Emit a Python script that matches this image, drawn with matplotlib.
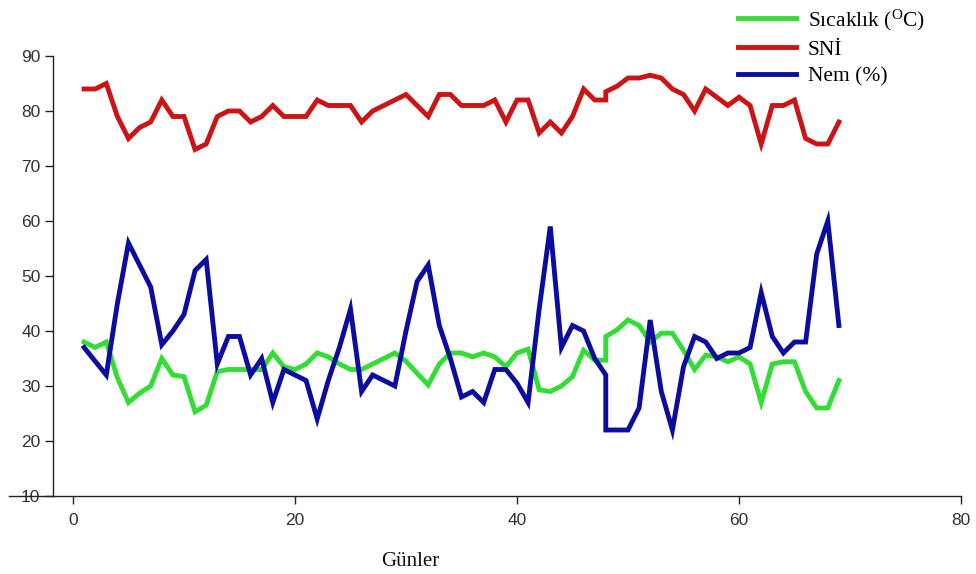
import matplotlib
matplotlib.use("Agg")
import matplotlib.pyplot as plt

plt.rcParams['font.family'] = ['Liberation Sans', 'DejaVu Sans']
plt.rcParams['mathtext.fontset'] = 'custom'
plt.rcParams['mathtext.rm'] = 'Liberation Serif'

# day index (day 48 has two readings)
gunler = list(range(1, 49)) + [48] + list(range(49, 70))

sicaklik = [38, 37, 38, 31.5, 27, 28.7, 30, 35, 32, 31.7,
            25.3, 26.5, 32.6, 33, 33, 33, 33, 36, 33.5, 33,
            34, 36, 35.3, 34, 33, 33, 34, 35, 36, 34.5,
            32.3, 30.2, 34, 36, 36, 35.3, 36, 35.3, 33.5, 36,
            36.7, 29.3, 29, 30, 31.7, 36.5, 34.7, 34.7, 39, 40.2,
            42, 41, 38, 39.6, 39.6, 36.5, 33, 35.6, 35.3, 34.4,
            35.3, 34, 27, 34, 34.4, 34.4, 29, 26, 26, 31]

sni = [84, 84, 85, 79, 75, 77, 78, 82, 79, 79,
       73, 74, 79, 80, 80, 78, 79, 81, 79, 79,
       79, 82, 81, 81, 81, 78, 80, 81, 82, 83,
       81, 79, 83, 83, 81, 81, 81, 82, 78, 82,
       82, 76, 78, 76, 79, 84, 82, 82, 83.5, 84.5,
       86, 86, 86.5, 86, 84, 83, 80, 84, 82.5, 81,
       82.5, 81, 74, 81, 81, 82, 75, 74, 74, 78]

nem = [37, 34.5, 32, 45, 56, 52, 48, 37.5, 40, 43,
       51, 53, 34, 39, 39, 32, 35, 27, 33, 32,
       31, 24, 31, 37, 44, 29, 32, 31, 30, 40,
       49, 52, 41, 35, 28, 29, 27, 33, 33, 30.5,
       27, 44, 59, 37, 41, 40, 35, 32, 22, 22,
       22, 26, 42, 29, 22, 33.5, 39, 38, 35, 36,
       36, 37, 47, 39, 36, 38, 38, 54, 60, 41]

fig = plt.figure(figsize=(9.76, 5.74), dpi=100)
ax = fig.add_axes([53 / 976, 1 - 496 / 574, 908 / 976, 440 / 574])

l1, = ax.plot(gunler, sicaklik, color='#33dd33', lw=3.5, solid_joinstyle='miter')
l2, = ax.plot(gunler, sni, color='#cc1414', lw=3.5, solid_joinstyle='miter')
l3, = ax.plot(gunler, nem, color='#0c0ca0', lw=3.5, solid_joinstyle='miter')

ax.set_xlim(-1.8, 80)
ax.set_ylim(10, 90)
ax.set_xticks([0, 20, 40, 60, 80])
ax.set_yticks(range(10, 91, 10))

for s in ['top', 'right']:
    ax.spines[s].set_visible(False)
for s in ['left', 'bottom']:
    ax.spines[s].set_color('#222222')
    ax.spines[s].set_linewidth(1.0)

ax.tick_params(axis='both', direction='out', length=6, width=1,
               color='#222222', labelcolor='#333333', labelsize=12.5)
ax.tick_params(axis='x', pad=6)
ax.tick_params(axis='y', pad=3)

# x axis line runs left past the y axis, through the "10" label
ax.plot([-0.048, 0], [10, 10], color='#222222', lw=1.0,
        transform=ax.get_yaxis_transform(), clip_on=False)

ax.set_xlabel('Günler', family='Liberation Serif', fontsize=15, color='#111111')
ax.xaxis.set_label_coords(0.393, -0.128)

fig.legend([l1, l2, l3],
           ['Sıcaklık ($\\mathregular{^{O}}$C)', 'SNİ', 'Nem (%)'],
           loc='upper left', bbox_to_anchor=(727 / 976, 1.006),
           frameon=False, borderpad=0, handlelength=2.7, handletextpad=0.55,
           labelspacing=0.32, prop={'family': 'Liberation Serif', 'size': 15.5})

fig.savefig('out.png', dpi=100, facecolor='white')
